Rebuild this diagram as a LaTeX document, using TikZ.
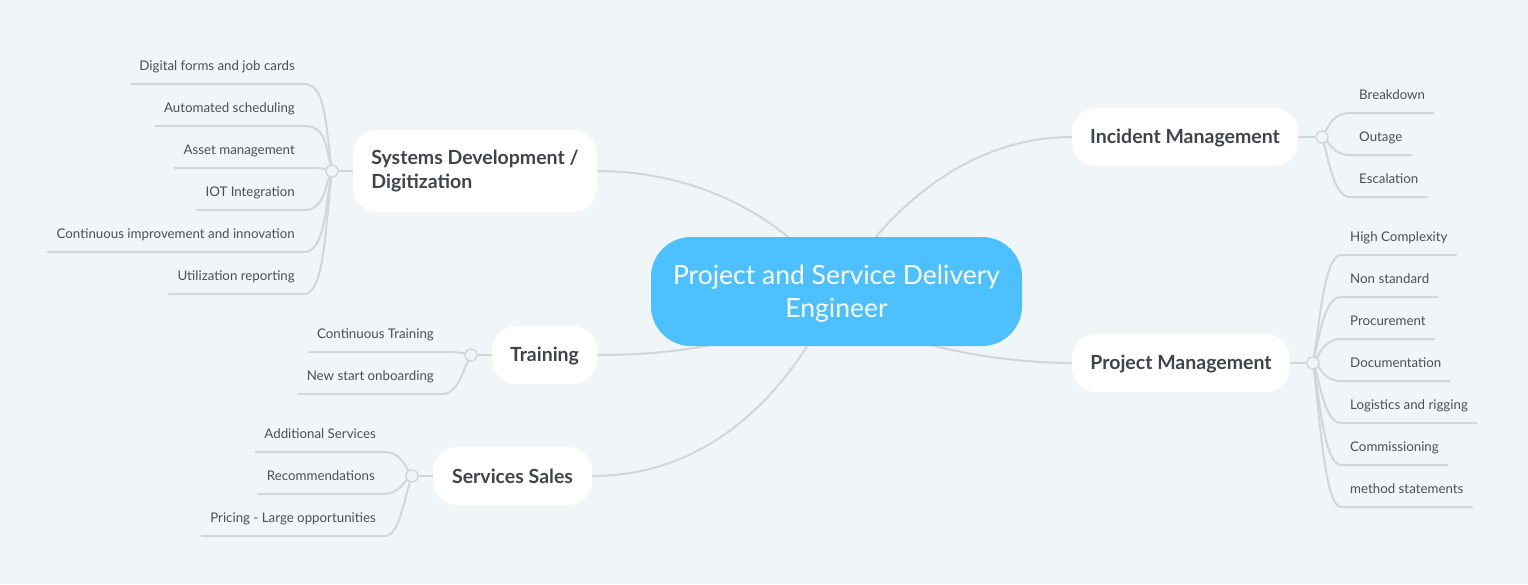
\documentclass[tikz,border=0pt]{standalone}
\usepackage{fontspec}
\setmainfont{Lato}
\usetikzlibrary{backgrounds}
\definecolor{bgclr}{HTML}{F0F5F8}
\definecolor{rootclr}{HTML}{4DC1FF}
\definecolor{txtclr}{HTML}{3D444B}
\definecolor{leaftxtclr}{HTML}{4A5056}
\definecolor{lineclr}{HTML}{D0D6DA}
\tikzset{ %
  ,x=1pt,y=-1pt
  ,root/.style={fill=rootclr, text=white, rounded corners=40pt, align=center, inner sep=0, minimum width=371pt, minimum height=109pt, text height=57pt, text depth=6pt, font=\fontsize{26.5}{33}\selectfont}
  ,branch/.style={fill=white, text=txtclr, rounded corners=24pt, inner sep=0, minimum height=58pt, font=\fontsize{19.5}{24}\selectfont\bfseries}
  ,hub/.style={draw=lineclr, fill=bgclr, circle, line width=1.5pt, inner sep=0, minimum size=12pt}
  ,leaf/.style={text=leaftxtclr, inner xsep=9pt, inner ysep=10pt, text depth=3pt, font=\fontsize{13.3}{16}\selectfont}
  ,link/.style={draw=lineclr, line width=2pt}
}
\begin{document}
\begin{tikzpicture}
  \useasboundingbox (0,0) rectangle (1528,584);
  \node[root] (root) at (836.5,291.5) {Project and Service Delivery\\Engineer};

  \node[branch, minimum width=244pt, minimum height=82pt, align=left, text height=40pt, text depth=6pt] (sys) at (475,171) {Systems Development /\\Digitization};
  \node[branch, minimum width=105pt, text height=16pt] (trn) at (544.5,355) {Training};
  \node[branch, minimum width=159pt, text height=16pt] (sal) at (512.5,476) {Services Sales};
  \node[branch, minimum width=226pt, text height=16pt] (inc) at (1185,137) {Incident Management};
  \node[branch, minimum width=218pt, text height=16pt] (pmg) at (1181,363) {Project Management};

  \node[hub] (syshub) at (332,171) {};
  \node[hub] (trnhub) at (471,355) {};
  \node[hub] (salhub) at (412,476) {};
  \node[hub] (inchub) at (1322,137) {};
  \node[hub] (pmghub) at (1313,363) {};

  \node[leaf, anchor=south east] (forms) at (304,84) {Digital forms and job cards};
  \node[leaf, anchor=south east] (sched) at (304,126) {Automated scheduling};
  \node[leaf, anchor=south east] (asset) at (304,168) {Asset management};
  \node[leaf, anchor=south east] (iot) at (304,210) {IOT Integration};
  \node[leaf, anchor=south east] (improve) at (304,252) {Continuous improvement and innovation};
  \node[leaf, anchor=south east] (util) at (304,294) {Utilization reporting};

  \node[leaf, anchor=south east] (conttrn) at (443,352) {Continuous Training};
  \node[leaf, anchor=south east] (onboard) at (443,394) {New start onboarding};

  \node[leaf, anchor=south east] (addsvc) at (385,452) {Additional Services};
  \node[leaf, anchor=south east] (recom) at (384,494) {Recommendations};
  \node[leaf, anchor=south east] (pricing) at (385,536) {Pricing - Large opportunities};

  \node[leaf, anchor=south west] (brk) at (1350,113) {Breakdown};
  \node[leaf, anchor=south west] (out) at (1350,155) {Outage};
  \node[leaf, anchor=south west] (esc) at (1350,197) {Escalation};

  \node[leaf, anchor=south west] (cplx) at (1341,255) {High Complexity};
  \node[leaf, anchor=south west] (nonstd) at (1341,297) {Non standard};
  \node[leaf, anchor=south west] (proc) at (1341,339) {Procurement};
  \node[leaf, anchor=south west] (docs) at (1341,381) {Documentation};
  \node[leaf, anchor=south west] (logi) at (1341,423) {Logistics and rigging};
  \node[leaf, anchor=south west] (comm) at (1341,465) {Commissioning};
  \node[leaf, anchor=south west] (meth) at (1341,507) {method statements};

  \begin{scope}[on background layer]
    \fill[bgclr] (0,0) rectangle (1528,584);
    \draw[link] (sys.east) .. controls +(110,0) and +(-40,-65) .. (root.center);
    \draw[link] (trn.east) .. controls +(100,0) and +(-60,45) .. (root.center);
    \draw[link] (sal.east) .. controls +(150,0) and +(-22,50) .. (root.center);
    \draw[link] (inc.west) .. controls +(-110,0) and +(45,-75) .. (root.center);
    \draw[link] (pmg.west) .. controls +(-80,0) and +(30,50) .. (root.center);
    \draw[link] (syshub) -- (sys.west);
    \draw[link] (trnhub) -- (trn.west);
    \draw[link] (salhub) -- (sal.west);
    \draw[link] (inchub) -- (inc.east);
    \draw[link] (pmghub) -- (pmg.east);
    \foreach \leafname/\bend in {forms/-55, sched/-30, asset/-2, iot/16, improve/40, util/60}
      \draw[link] (\leafname.south west) -- (\leafname.south east) .. controls +(20,0) and +(-7,\bend) .. (syshub);
    \foreach \leafname/\bend in {conttrn/-2, onboard/16}
      \draw[link] (\leafname.south west) -- (\leafname.south east) .. controls +(14,0) and +(-8,\bend) .. (trnhub);
    \foreach \leafname/\bend in {addsvc/-12, recom/6, pricing/24}
      \draw[link] (\leafname.south west) -- (\leafname.south east) .. controls +(14,0) and +(-8,\bend) .. (salhub);
    \foreach \leafname/\bend in {brk/-12, out/6, esc/24}
      \draw[link] (\leafname.south east) -- (\leafname.south west) .. controls +(-16,0) and +(7,\bend) .. (inchub);
    \foreach \leafname/\bend in {cplx/-45, nonstd/-30, proc/-10, docs/5, logi/20, comm/40, meth/55}
      \draw[link] (\leafname.south east) -- (\leafname.south west) .. controls +(-16,0) and +(7,\bend) .. (pmghub);
  \end{scope}
\end{tikzpicture}
\end{document}
